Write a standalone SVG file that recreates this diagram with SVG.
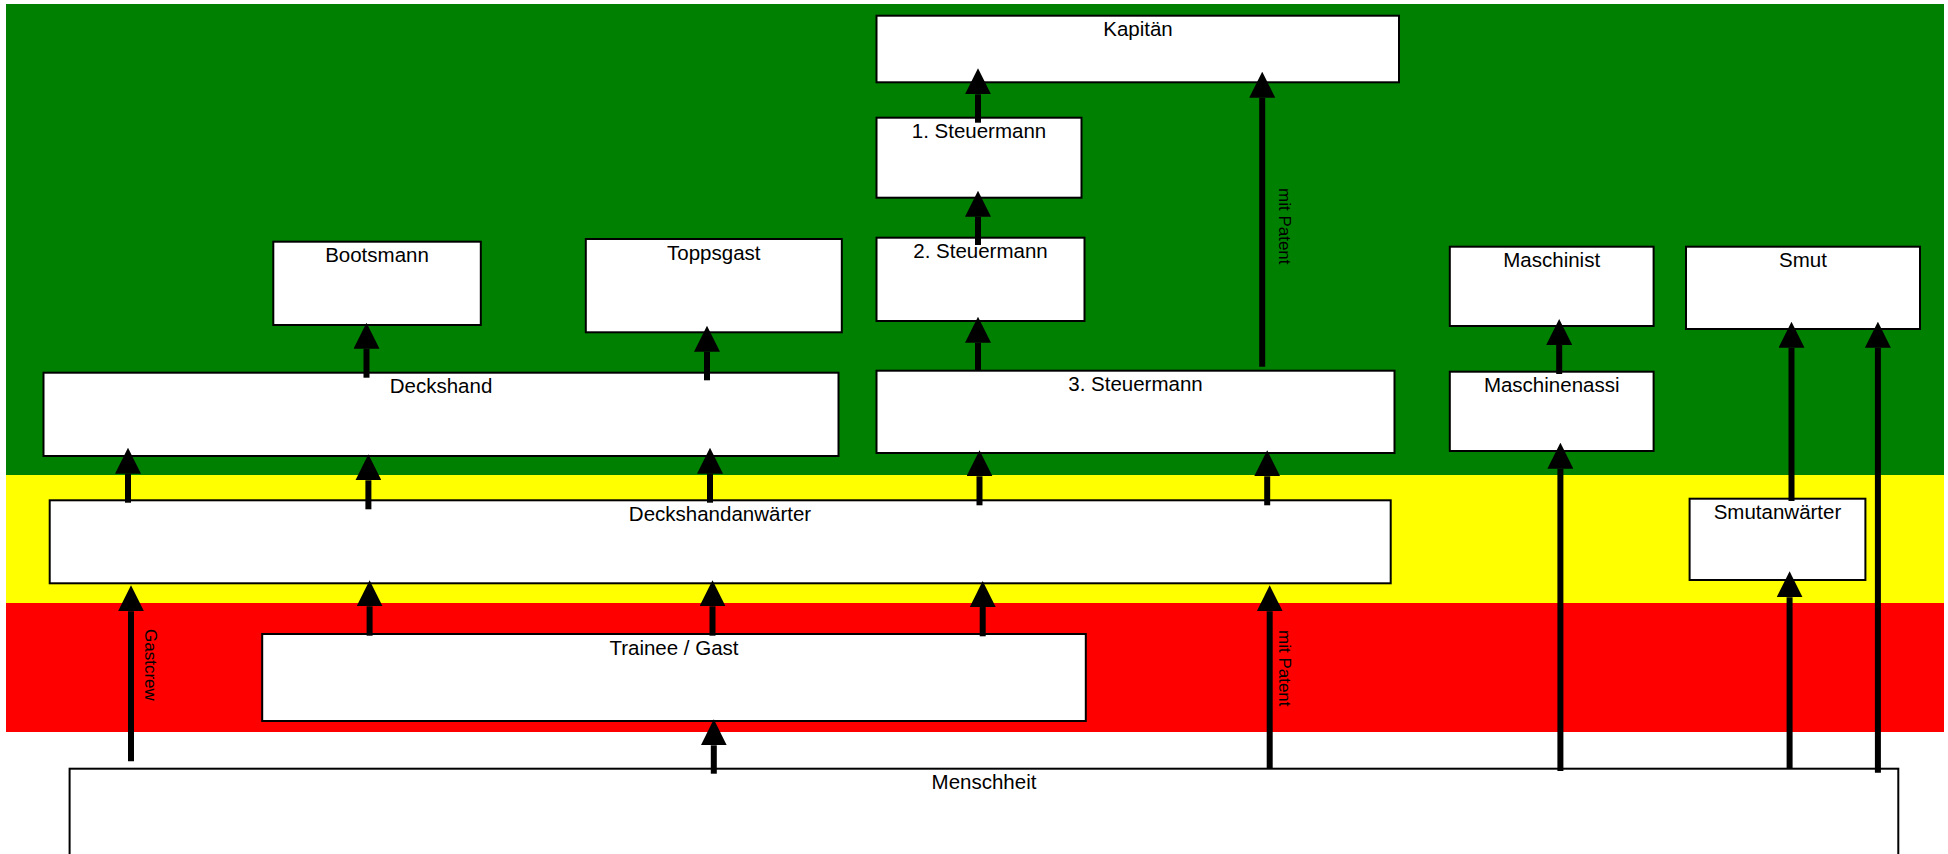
<svg xmlns="http://www.w3.org/2000/svg" width="1948" height="854" viewBox="0 0 1948 854">
<style>
.box{fill:#fff;stroke:#000;stroke-width:2}
.lbl{font-family:"Liberation Sans",Arial,sans-serif;font-size:20.5px;fill:#000;text-anchor:middle}
.vl{font-family:"Liberation Sans",Arial,sans-serif;font-size:17px;fill:#000}
.arr{stroke:#000;stroke-width:6;fill:none;marker-end:url(#ah)}
</style>
<defs>
<marker id="ah" markerUnits="userSpaceOnUse" markerWidth="26" markerHeight="26" refX="0" refY="13" orient="auto" viewBox="0 0 26 26">
<path d="M0,0 L26,13 L0,26 z" fill="#000"/>
</marker>
</defs>
<rect width="1948" height="854" fill="#fff"/>
<g id="bands">
<rect x="6" y="4" width="1938" height="471" fill="#008000"/>
<rect x="6" y="475" width="1938" height="128" fill="#ffff00"/>
<rect x="6" y="603" width="1938" height="129" fill="#ff0000"/>
</g>
<g id="kapitaen"><rect class="box" x="876.5" y="15.7" width="522.5" height="66.6"/><text class="lbl" x="1138" y="35.5">Kapitän</text></g>
<g id="steuermann1"><rect class="box" x="876.5" y="117.7" width="205" height="80"/><text class="lbl" x="979" y="138">1. Steuermann</text></g>
<g id="steuermann2"><rect class="box" x="876.5" y="237.7" width="208" height="83.3"/><text class="lbl" x="980.5" y="258">2. Steuermann</text></g>
<g id="bootsmann"><rect class="box" x="273.3" y="241.7" width="207.5" height="83.3"/><text class="lbl" x="377" y="262.3">Bootsmann</text></g>
<g id="toppsgast"><rect class="box" x="585.8" y="239" width="256" height="93.3"/><text class="lbl" x="713.8" y="259.5">Toppsgast</text></g>
<g id="maschinist"><rect class="box" x="1449.8" y="246.7" width="203.8" height="79.3"/><text class="lbl" x="1551.7" y="267">Maschinist</text></g>
<g id="smut"><rect class="box" x="1686" y="246.7" width="234" height="82.3"/><text class="lbl" x="1803" y="267">Smut</text></g>
<g id="deckshand"><rect class="box" x="43.5" y="372.7" width="795" height="83.3"/><text class="lbl" x="441" y="393.3">Deckshand</text></g>
<g id="steuermann3"><rect class="box" x="876.5" y="370.7" width="518" height="82.3"/><text class="lbl" x="1135.5" y="391">3. Steuermann</text></g>
<g id="maschinenassi"><rect class="box" x="1449.8" y="371.7" width="203.8" height="79.3"/><text class="lbl" x="1551.7" y="392">Maschinenassi</text></g>
<g id="deckshandanwaerter"><rect class="box" x="49.7" y="500.3" width="1341" height="83"/><text class="lbl" x="720" y="520.8">Deckshandanwärter</text></g>
<g id="smutanwaerter"><rect class="box" x="1689.6" y="498.7" width="175.8" height="81.3"/><text class="lbl" x="1777.5" y="519.2">Smutanwärter</text></g>
<g id="trainee"><rect class="box" x="262.2" y="634" width="823.6" height="87"/><text class="lbl" x="674" y="654.5">Trainee / Gast</text></g>
<g id="menschheit"><rect class="box" x="69.6" y="768.7" width="1828.7" height="100"/><text class="lbl" x="984" y="788.7">Menschheit</text></g>
<g id="connectors">
<line class="arr" x1="366.5" y1="377.7" x2="366.5" y2="348.7"/>
<line class="arr" x1="707" y1="380.3" x2="707" y2="351.7"/>
<line class="arr" x1="978" y1="122.7" x2="978" y2="94.3"/>
<line class="arr" x1="978" y1="245" x2="978" y2="216.7"/>
<line class="arr" x1="978" y1="370.7" x2="978" y2="342.7"/>
<line class="arr" x1="1262.2" y1="366.7" x2="1262.2" y2="97.7"/>
<line class="arr" x1="1559.2" y1="374" x2="1559.2" y2="345"/>
<line class="arr" x1="1791.5" y1="501" x2="1791.5" y2="347.7"/>
<line class="arr" x1="1877.9" y1="772.7" x2="1877.9" y2="347.7"/>
<line class="arr" x1="128" y1="502.7" x2="128" y2="473.7"/>
<line class="arr" x1="368.4" y1="509.3" x2="368.4" y2="480.3"/>
<line class="arr" x1="710" y1="502.7" x2="710" y2="473.7"/>
<line class="arr" x1="979.5" y1="505.3" x2="979.5" y2="476.3"/>
<line class="arr" x1="1267.2" y1="505.3" x2="1267.2" y2="476.3"/>
<line class="arr" x1="131" y1="761.3" x2="131" y2="611.3"/>
<line class="arr" x1="369.6" y1="635.7" x2="369.6" y2="606.3"/>
<line class="arr" x1="712.5" y1="635.7" x2="712.5" y2="606.3"/>
<line class="arr" x1="982.7" y1="636.3" x2="982.7" y2="607"/>
<line class="arr" x1="713.8" y1="773.7" x2="713.8" y2="745.3"/>
<line class="arr" x1="1269.7" y1="768" x2="1269.7" y2="611.3"/>
<line class="arr" x1="1560.4" y1="771" x2="1560.4" y2="468.7"/>
<line class="arr" x1="1789.6" y1="768" x2="1789.6" y2="597.3"/>
<text class="vl" transform="translate(1279,188) rotate(90)">mit Patent</text>
<text class="vl" transform="translate(1279,630) rotate(90)">mit Patent</text>
<text class="vl" transform="translate(144.5,629) rotate(90)">Gastcrew</text>
</g>
</svg>
